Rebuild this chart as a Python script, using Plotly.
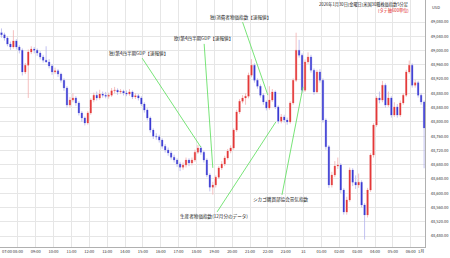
import plotly.graph_objects as go
import pandas as pd

# ---- data (10-minute candles) ----
first_open = 49050
closes = [49044, 49035, 49018, 49010, 49027, 49010, 49001, 48940, 48959, 48996,
          49004, 49001, 48993, 48982, 48973, 48968, 48957, 48940, 48943, 48934,
          48917, 48895, 48847, 48861, 48867, 48853, 48825, 48811, 48797, 48825,
          48861, 48875, 48867, 48878, 48875, 48872, 48875, 48887, 48889, 48884,
          48886, 48881, 48878, 48884, 48870, 48873, 48867, 48850, 48833, 48811,
          48777, 48760, 48758, 48749, 48732, 48721, 48713, 48701, 48693, 48682,
          48673, 48679, 48693, 48685, 48693, 48715, 48727, 48715, 48693, 48651,
          48617, 48623, 48645, 48671, 48682, 48699, 48718, 48727, 48777, 48828,
          48858, 48867, 48872, 48931, 48959, 48917, 48900, 48875, 48856, 48839,
          48861, 48884, 48842, 48802, 48814, 48805, 48800, 48853, 48917, 49001,
          48987, 48889, 48968, 48982, 48945, 48884, 48940, 48917, 48805, 48730,
          48623, 48651, 48676, 48679, 48609, 48547, 48581, 48665, 48631, 48623,
          48631, 48567, 48539, 48609, 48707, 48791, 48867, 48861, 48903, 48847,
          48867, 48819, 48842, 48819, 48853, 48875, 48940, 48959, 48903, 48910,
          48875, 48856, 48783]
highs = [49062, 49050, 49040, 49025, 49057, 49032, 49015, 49006, 48965, 49003,
         49012, 49010, 49006, 48998, 48988, 49012, 48976, 48962, 48952, 48948,
         48938, 48922, 48900, 48870, 48880, 48872, 48858, 48830, 48815, 48830,
         48866, 48882, 48885, 48890, 48885, 48884, 48882, 48895, 48898, 48894,
         48892, 48890, 48888, 48892, 48888, 48880, 48878, 48872, 48855, 48838,
         48815, 48782, 48768, 48764, 48754, 48738, 48728, 48718, 48708, 48698,
         48688, 48686, 48700, 48698, 48700, 48722, 48735, 48732, 48720, 48698,
         48656, 48632, 48650, 48676, 48690, 48705, 48724, 48734, 48782, 48834,
         48864, 48875, 48880, 48938, 48976, 48964, 48922, 48905, 48880, 48860,
         48900, 48892, 48888, 48846, 48822, 48820, 48812, 48858, 48922, 49050,
         49030, 48992, 48975, 48995, 48988, 48950, 48946, 48948, 48922, 48810,
         48735, 48660, 48690, 48700, 48684, 48614, 48590, 48672, 48670, 48650,
         48655, 48636, 48572, 48615, 48712, 48796, 48872, 48885, 48915, 48908,
         48885, 48872, 48855, 48850, 48860, 48880, 48946, 48972, 48964, 48918,
         48915, 48880, 48860]
lows = [49036, 49028, 49012, 49002, 49005, 49003, 48992, 48930, 48934, 48867,
        48990, 48992, 48985, 48975, 48966, 48966, 48950, 48932, 48934, 48926,
        48910, 48887, 48840, 48840, 48855, 48845, 48818, 48800, 48790, 48792,
        48820, 48855, 48860, 48862, 48868, 48866, 48865, 48870, 48880, 48876,
        48878, 48874, 48872, 48873, 48864, 48864, 48860, 48844, 48826, 48804,
        48770, 48752, 48750, 48742, 48725, 48714, 48705, 48694, 48686, 48674,
        48662, 48666, 48672, 48676, 48678, 48688, 48710, 48708, 48686, 48645,
        48605, 48596, 48616, 48640, 48665, 48676, 48694, 48712, 48722, 48772,
        48822, 48852, 48848, 48866, 48925, 48910, 48893, 48868, 48848, 48832,
        48834, 48856, 48836, 48795, 48796, 48798, 48792, 48795, 48848, 48912,
        48980, 48882, 48884, 48962, 48938, 48876, 48880, 48910, 48798, 48722,
        48615, 48616, 48645, 48668, 48600, 48540, 48540, 48576, 48620, 48612,
        48615, 48560, 48470, 48532, 48604, 48700, 48786, 48852, 48855, 48840,
        48842, 48812, 48814, 48812, 48814, 48848, 48870, 48935, 48896, 48896,
        48868, 48848, 48670]
opens = [first_open] + closes[:-1]
body_hi = [max(o, c) for o, c in zip(opens, closes)]
body_lo = [min(o, c) for o, c in zip(opens, closes)]
times = pd.date_range("2026-01-30 07:05", periods=len(closes), freq="10min")

tick_times = pd.date_range("2026-01-30 07:00", "2026-01-31 06:00", freq="1h")
tick_text = ["31" if t.hour == 0 else t.strftime("%H:00") for t in tick_times]
y_ticks = list(range(48480, 49081, 40))

event_labels = ["独)第4四半期GDP【速報値】", "欧)第4四半期GDP【速報値】",
                "独)消費者物価指数【速報値】", "生産者物価指数(12月分のデータ)",
                "シカゴ購買部協会景気指数"]
event_times = ["2026-01-30 18:15", "2026-01-30 18:55", "2026-01-30 22:00",
               "2026-01-30 22:27", "2026-01-30 23:58"]
event_prices = [48729, 48671, 48875, 48800, 48898]
event_offsets = [(-62, -94), (-9, -129), (-27, -78), (-62, 95), (-22, 113)]

FONT = "Noto Sans CJK JP"
RED, BLUE = "#e43838", "#3a3ad2"
PINK, LAV = "#f3b0b0", "#b4b4ee"

fig = go.Figure()
fig.add_trace(go.Candlestick(
    x=times, open=opens, high=highs, low=lows, close=closes,
    increasing=dict(line=dict(color=PINK, width=0.8), fillcolor=PINK),
    decreasing=dict(line=dict(color=LAV, width=0.8), fillcolor=LAV),
    showlegend=False, hoverinfo="skip"))
fig.add_trace(go.Candlestick(
    x=times, open=opens, high=body_hi, low=body_lo, close=closes,
    increasing=dict(line=dict(color=RED, width=0), fillcolor=RED),
    decreasing=dict(line=dict(color=BLUE, width=0), fillcolor=BLUE),
    showlegend=False, hoverinfo="skip"))

for lab, t, p, (ax, ay) in zip(event_labels, event_times, event_prices, event_offsets):
    fig.add_annotation(x=t, y=p, xref="x", yref="y", text=lab, showarrow=True,
                       arrowhead=0, arrowwidth=0.8, arrowcolor="#55dd55",
                       ax=ax, ay=ay, font=dict(family=FONT, size=4.6, color="#222"))

fig.add_annotation(x=411/425, y=1-4/247, xref="paper", yref="paper", xanchor="right",
                   yanchor="middle", showarrow=False,
                   text="2026年1月30日(金曜日)米国30種株価指数5分足",
                   font=dict(family=FONT, size=4.2, color="#222"))
fig.add_annotation(x=411/425, y=1-11/247, xref="paper", yref="paper", xanchor="right",
                   yanchor="middle", showarrow=False, text="(タテ軸600単位)",
                   font=dict(family=FONT, size=4.2, color="#e02020"))
fig.add_annotation(x=430/425, y=1-7/247, xref="paper", yref="paper", xanchor="left",
                   yanchor="middle", showarrow=False, text="USD",
                   font=dict(family=FONT, size=4, color="#333"))
fig.add_annotation(x=421/425, y=-4/247, xref="paper", yref="paper", xanchor="center",
                   yanchor="middle", showarrow=False, text="1月",
                   font=dict(family=FONT, size=4, color="#333"))
fig.add_annotation(x=0, y=-4/247, xref="paper", yref="paper", xanchor="left",
                   yanchor="middle", showarrow=False, text="07:00",
                   font=dict(family=FONT, size=4, color="#333"))

fig.update_layout(
    width=450, height=258, margin=dict(l=0, r=25, t=0, b=11),
    paper_bgcolor="white", plot_bgcolor="white",
    font=dict(family=FONT, size=4, color="#333"),
    xaxis=dict(type="date", range=["2026-01-30 07:00", "2026-01-31 06:48"],
               rangeslider=dict(visible=False), tickvals=tick_times[1:],
               ticktext=tick_text[1:],
               showgrid=True, gridcolor="#e6e6e6", gridwidth=0.6,
               showline=True, linecolor="#b0b0b0", linewidth=1, ticks="",
               tickfont=dict(size=4, family=FONT, color="#333"), automargin=False),
    yaxis=dict(side="right", range=[48449.2, 49141.7], tickvals=y_ticks,
               tickformat=",.2f", showgrid=True, gridcolor="#e6e6e6", gridwidth=0.6,
               showline=True, linecolor="#b0b0b0", linewidth=1, ticks="",
               ticklabelstandoff=4, zeroline=False,
               tickfont=dict(size=4, family=FONT, color="#333"), automargin=False),
)
fig.write_html("out.html")
